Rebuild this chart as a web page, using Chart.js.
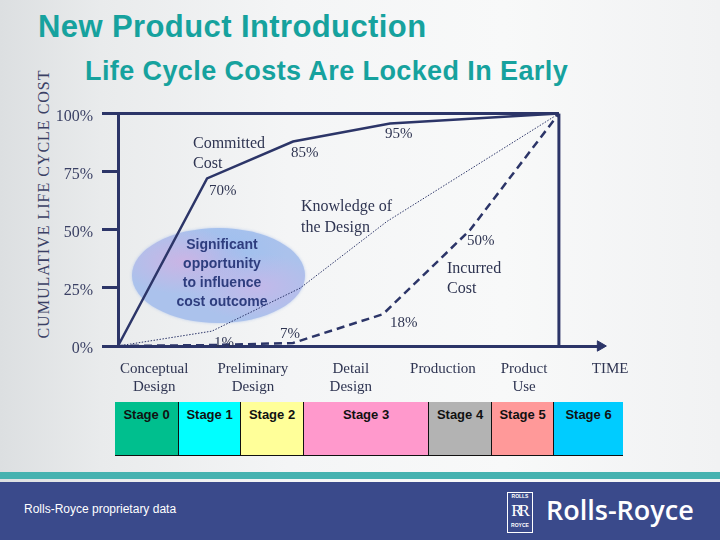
<!DOCTYPE html>
<html>
<head>
<meta charset="utf-8">
<script src="https://cdn.jsdelivr.net/npm/chart.js@4.4.0/dist/chart.umd.min.js"></script>
<style>
  html, body { margin: 0; padding: 0; }
  body { width: 720px; height: 540px; position: relative; overflow: hidden;
    background: linear-gradient(90deg, #dcdfe1 0%, #e9ebec 14%, #f4f5f6 40%, #f8f9f9 70%, #f1f2f3 100%);
    font-family: "Liberation Serif", serif; color: #2f3552; }
  .abs { position: absolute; white-space: nowrap; }
  #title { left: 38px; top: 11px; font: bold 31px "Liberation Sans", Arial, sans-serif; color: #16a29e; line-height: 1; letter-spacing: 0.4px; }
  #subtitle { left: 85px; top: 58px; font: bold 27px "Liberation Sans", Arial, sans-serif; color: #16a29e; line-height: 1; letter-spacing: 0.4px; }
  #ytitle { left: -106px; top: 194px; width: 300px; text-align: center; font-size: 16px; letter-spacing: 1px;
    line-height: 20px; transform: rotate(-90deg); color: #3a4064; }
  #blob { left: 132px; top: 228px; width: 173px; height: 95px; border-radius: 50%;
    background:
      radial-gradient(ellipse at 30% 35%, rgba(214,176,226,0.75), rgba(214,176,226,0) 38%),
      radial-gradient(ellipse at 72% 62%, rgba(205,180,232,0.7), rgba(205,180,232,0) 40%),
      radial-gradient(ellipse at 55% 25%, rgba(150,190,240,0.6), rgba(150,190,240,0) 45%),
      #abc2ec;
    box-shadow: 0 0 3px rgba(171,194,236,0.8); }
  #cv { position: absolute; left: 0; top: 95px; }
  .note { font-size: 15px; line-height: 20px; color: #2f3552; }
  #opp { left: 147px; top: 235px; width: 150px; text-align: center;
    font: bold 14px "Liberation Sans", Arial, sans-serif; line-height: 19px; color: #2e3d7e; }
  #stages { left: 115px; top: 402px; height: 53px; display: flex; border-bottom: 1px solid #111; }
  #stages div { height: 53px; box-sizing: border-box; border-left: 1px solid #111; text-align: center;
    font: bold 13px "Liberation Sans", Arial, sans-serif; color: #111; padding-top: 5px; }
  #stages div:first-child { border-left: none; }
  #teal { left: 0; top: 472px; width: 720px; height: 7px; background: #46b2b0; }
  #band { left: 0; top: 482px; width: 720px; height: 58px; background: #3a4a8b; }
  #prop { left: 24px; top: 502px; font: 12px "Liberation Sans", Arial, sans-serif; color: #fff; }
  #badge { left: 507px; top: 492px; width: 26px; height: 41px; box-sizing: border-box; border: 1.5px solid #fff;
    text-align: center; color: #fff; }
  #badge .s { font: bold 5px "Liberation Sans", Arial, sans-serif; line-height: 7px; }
  #badge .rr { font: 17px "Liberation Serif", serif; line-height: 22px; letter-spacing: -4px; margin-left: -3px; }
  #rr { left: 546px; top: 494px; font: 600 27px "Open Sans", sans-serif; color: #fff; line-height: 32px; }
</style>
</head>
<body>
<div class="abs" id="title">New Product Introduction</div>
<div class="abs" id="subtitle">Life Cycle Costs Are Locked In Early</div>
<div class="abs" id="ytitle">CUMULATIVE LIFE CYCLE COST</div>
<div class="abs" id="blob"></div>
<canvas id="cv" width="720" height="305"></canvas>
<div class="abs" id="opp">Significant<br>opportunity<br>to influence<br>cost outcome</div>
<div class="abs note" style="left:193px;top:133px;font-size:16px;">Committed<br>Cost</div>
<div class="abs note" style="left:209px;top:180px;">70%</div>
<div class="abs note" style="left:291px;top:142px;">85%</div>
<div class="abs note" style="left:385px;top:123px;">95%</div>
<div class="abs note" style="left:301px;top:195px;font-size:16px;line-height:21px;">Knowledge of<br>the Design</div>
<div class="abs note" style="left:467px;top:230px;">50%</div>
<div class="abs note" style="left:447px;top:258px;font-size:16px;">Incurred<br>Cost</div>
<div class="abs note" style="left:390px;top:312px;">18%</div>
<div class="abs note" style="left:280px;top:323px;">7%</div>
<div class="abs note" style="left:214px;top:332px;">1%</div>
<div class="abs" id="stages"></div>
<div class="abs" id="teal"></div>
<div class="abs" id="band"></div>
<div class="abs" id="prop">Rolls-Royce proprietary data</div>
<div class="abs" id="badge"><div class="s">ROLLS</div><div class="rr">RR</div><div class="s">ROYCE</div></div>
<div class="abs" id="rr">Rolls-Royce</div>
<script>
// Life cycle cost curves (x = time units, 0..100 = start..end of product life; y = % of cost)
const committedX = [0, 20.2, 39.7, 61.7, 100];
const committedY = [0, 72.1, 88.0, 95.7, 100];
const knowledgeX = [0, 21.3, 41.3, 61.0, 100];
const knowledgeY = [0, 6.4, 24.9, 53.6, 100];
const incurredX = [0, 21.3, 39.7, 60.1, 79.8, 100];
const incurredY = [0, 0.4, 1.3, 13.7, 49.8, 100];

const yTicks = [0, 25, 50, 75, 100];
const phaseLabels = [['Conceptual', 'Design'], ['Preliminary', 'Design'], ['Detail', 'Design'], 'Production', ['Product', 'Use'], 'TIME'];
const phasePos = [8.2, 30.6, 52.8, 73.7, 92.1, 111.6];

const stageNames = ['Stage 0', 'Stage 1', 'Stage 2', 'Stage 3', 'Stage 4', 'Stage 5', 'Stage 6'];
const stageColors = ['#00bf8e', '#00ffff', '#ffff99', '#ff99cc', '#b3b3b3', '#ff9999', '#00ccff'];
const stageWidths = [63, 62, 63, 125, 63, 62, 70];

const navy = '#2c3568';

// stage strip under the chart
const strip = document.getElementById('stages');
stageNames.forEach((name, i) => {
  const d = document.createElement('div');
  d.textContent = name;
  d.style.width = stageWidths[i] + 'px';
  d.style.background = stageColors[i];
  strip.appendChild(d);
});

function pts(xs, ys) {
  return xs.map((x, i) => ({ x: x, y: ys[i] }));
}

const frame = {
  borderColor: navy,
  borderWidth: 3,
  pointRadius: 0,
  clip: false
};

new Chart(document.getElementById('cv'), {
  type: 'line',
  data: {
    datasets: [
      { label: 'Committed Cost', data: pts(committedX, committedY), borderColor: navy, borderWidth: 2.5, pointRadius: 0, clip: false },
      { label: 'Knowledge of the Design', data: pts(knowledgeX, knowledgeY), borderColor: navy, borderWidth: 1, borderDash: [1.5, 1.5], pointRadius: 0, clip: false },
      { label: 'Incurred Cost', data: pts(incurredX, incurredY), borderColor: navy, borderWidth: 2.5, borderDash: [8, 5], pointRadius: 0, clip: false },
      { label: 'top', data: [{ x: 0, y: 100 }, { x: 100, y: 100 }], ...frame },
      { label: 'right', data: [{ x: 100, y: 0 }, { x: 100, y: 100 }], ...frame },
      { label: 'arrow', data: [{ x: 109.4, y: 0 }], showLine: false, pointStyle: 'triangle', pointRotation: 90,
        pointRadius: 6, pointBackgroundColor: navy, pointBorderColor: navy, pointBorderWidth: 1, clip: false }
    ]
  },
  options: {
    responsive: false,
    animation: false,
    layout: { padding: { top: 18, right: 117, left: 0, bottom: 0 } },
    plugins: { legend: { display: false }, tooltip: { enabled: false } },
    scales: {
      x: {
        type: 'linear',
        min: 0,
        max: 110,
        afterFit: (scale) => { scale.height = 54; },
        afterBuildTicks: (scale) => { scale.ticks = phasePos.map(v => ({ value: v })); },
        grid: { display: false, drawTicks: false },
        border: { display: true, color: navy, width: 3 },
        ticks: {
          autoSkip: false,
          maxRotation: 0,
          padding: 14,
          color: '#2f3552',
          font: { family: 'Liberation Serif', size: 15, lineHeight: 1.2 },
          callback: (v, i) => phaseLabels[i]
        }
      },
      y: {
        min: 0,
        max: 100,
        afterFit: (scale) => { scale.width = 118; },
        afterBuildTicks: (scale) => { scale.ticks = yTicks.map(v => ({ value: v })); },
        grid: { drawOnChartArea: false, drawTicks: true, tickLength: 16, color: navy, lineWidth: 3 },
        border: { display: true, color: navy, width: 3 },
        ticks: {
          padding: 9,
          labelOffset: 3,
          color: '#3a4064',
          font: { family: 'Liberation Serif', size: 16 },
          callback: (v) => v + '%'
        }
      }
    }
  }
});
</script>
</body>
</html>
